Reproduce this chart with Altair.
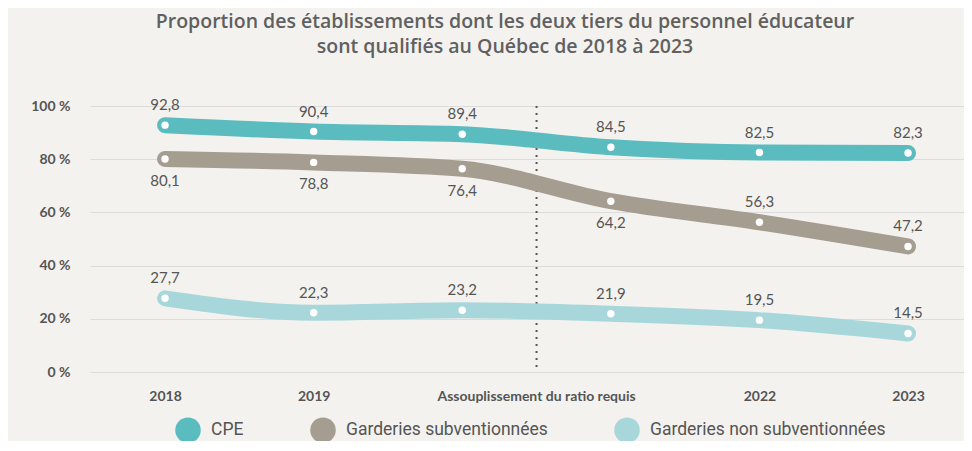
import altair as alt
import pandas as pd

years = [2018, 2019, 2020, 2021, 2022, 2023]
series_names = ["CPE", "Garderies subventionnées", "Garderies non subventionnées"]
cpe = [92.8, 90.4, 89.4, 84.5, 82.5, 82.3]
subv = [80.1, 78.8, 76.4, 64.2, 56.3, 47.2]
nonsubv = [27.7, 22.3, 23.2, 21.9, 19.5, 14.5]
subv_label_below = [True, True, True, True, False, False]
colors = ["#5bbcc0", "#a59d90", "#a8d7db"]
x_tick_years = [2018, 2019, 2022, 2023]
y_ticks = [0, 20, 40, 60, 80, 100]
annotation_year = [2020.5]
annotation_text = ["Assouplissement du ratio requis"]
title_lines = [
    "Proportion des établissements dont les deux tiers du personnel éducateur",
    "sont qualifiés au Québec de 2018 à 2023",
]

rows = []
for name, vals in zip(series_names, [cpe, subv, nonsubv]):
    for i, (yr, v) in enumerate(zip(years, vals)):
        below = (name == series_names[1]) and subv_label_below[i]
        rows.append(dict(serie=name, annee=yr, valeur=v,
                         label=f"{v:.1f}".replace(".", ","),
                         pos="below" if below else "above"))
df = pd.DataFrame(rows)

W, H = 874, 266
PX_PER_YEAR = 148.6
x0 = 2017.495
xscale = alt.Scale(domain=[x0, x0 + W / PX_PER_YEAR], nice=False, zero=False)
yscale = alt.Scale(domain=[0, 100], nice=False, zero=True)

TXT = "#555555"
FONT = "Lato"
TFONT = "Open Sans"
LFONT = "Roboto"

xaxis = alt.Axis(values=x_tick_years, format="d", domain=False, ticks=False, grid=False,
                 labelPadding=17, labelFontSize=14, labelFont=FONT, labelFontWeight="bold",
                 labelColor=TXT, title=None)
yaxis = alt.Axis(values=y_ticks, labelExpr="datum.value + ' %'", domain=False, ticks=False,
                 grid=True, gridColor="#dcdcdc", gridWidth=1, labelPadding=20,
                 labelFontSize=14, labelFont=FONT, labelFontWeight="bold", labelColor=TXT,
                 title=None)

X = alt.X("annee:Q", scale=xscale, axis=xaxis)
Y = alt.Y("valeur:Q", scale=yscale, axis=yaxis)

base = alt.Chart(df).encode(x=X, y=Y)

legend = alt.Legend(title=None, orient="none", legendX=85, legendY=311, direction="horizontal",
                    symbolType="circle", symbolSize=650, symbolStrokeWidth=0, symbolOpacity=1,
                    labelFont=LFONT, labelFontSize=17.5, labelColor=TXT, labelOffset=10,
                    labelLimit=400, columnPadding=66)

legend_layer = base.mark_circle(size=60, opacity=1).encode(
    color=alt.Color("serie:N", scale=alt.Scale(domain=series_names, range=colors),
                    sort=series_names, legend=legend))

lines = base.mark_line(strokeWidth=16, strokeCap="round", strokeJoin="round",
                       interpolate="monotone").encode(
    color=alt.Color("serie:N", scale=alt.Scale(domain=series_names, range=colors),
                    sort=series_names, legend=None))

points = base.mark_point(filled=True, color="white", size=55, opacity=1)

labels_above = base.transform_filter(alt.datum.pos == "above").mark_text(
    dy=-20, fontSize=15, font=FONT, color=TXT).encode(text="label:N")
labels_below = base.transform_filter(alt.datum.pos == "below").mark_text(
    dy=22, fontSize=15, font=FONT, color=TXT).encode(text="label:N")

ann_df = pd.DataFrame({"annee": annotation_year, "t": annotation_text})
rule = alt.Chart(ann_df).mark_rule(strokeDash=[2, 5], strokeWidth=2, color="#555555").encode(
    x=alt.X("annee:Q", scale=xscale), y=alt.value(0), y2=alt.value(H))
annot = alt.Chart(ann_df).mark_text(fontSize=14, font=FONT, fontWeight="bold", color=TXT,
                                    baseline="middle").encode(
    x=alt.X("annee:Q", scale=xscale), y=alt.value(H + 25), text="t:N")

chart = alt.layer(rule, legend_layer, lines, points, labels_above, labels_below, annot).properties(
    width=W, height=H,
    title=alt.TitleParams(title_lines, anchor="middle", dx=-22, offset=41, fontSize=19.5,
                          font=TFONT, fontWeight=600, color="#606060", lineHeight=25),
    padding={"left": 82, "top": 98, "right": 0, "bottom": 69},
    autosize=alt.AutoSizeParams(type="none"),
    background="#f4f2ef",
).configure_view(stroke=None)

chart.save("out.html", embed_options={"renderer": "svg", "actions": False})
